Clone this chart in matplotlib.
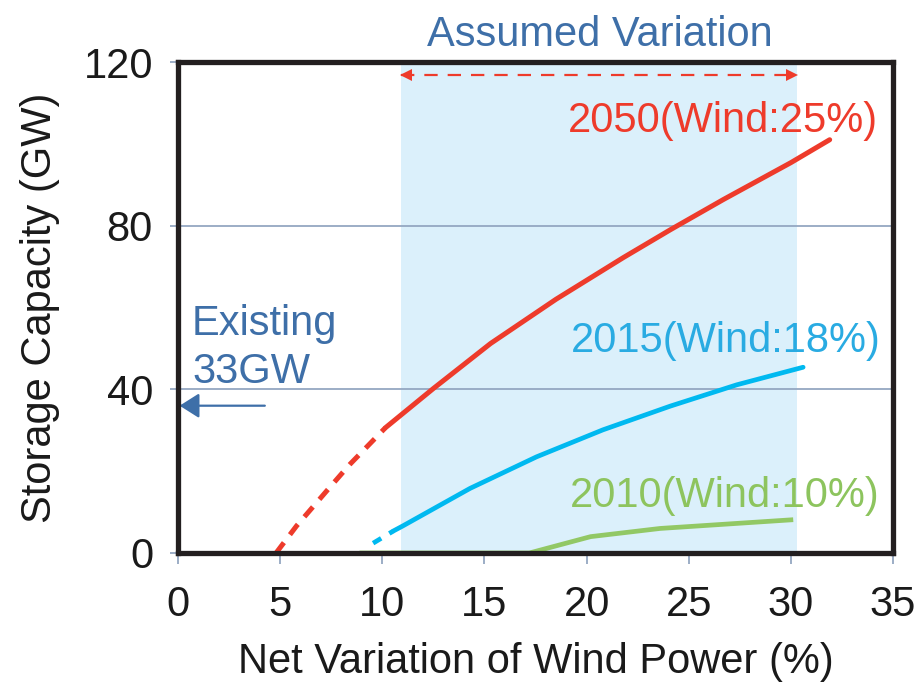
import matplotlib
matplotlib.use("Agg")
import matplotlib.pyplot as plt

plt.rcParams['font.family'] = ['Liberation Sans', 'DejaVu Sans']

# Data
red_dash_x = [4.8, 5.8, 7.3, 8.4, 10.15]
red_dash_y = [0, 6.6, 15.3, 21.6, 30.6]
red_x = [10.15, 12.5, 15.3, 18.5, 21.8, 24.1, 26.7, 30.0, 31.9]
red_y = [30.6, 40.2, 51.2, 62.0, 72.2, 79.0, 86.4, 95.4, 101.0]

cyan_dash_x = [9.55, 10.55]
cyan_dash_y = [2.4, 5.4]
cyan_x = [10.55, 11.0, 14.3, 17.55, 20.8, 24.1, 27.35, 30.6]
cyan_y = [5.4, 6.6, 15.8, 23.5, 30.1, 35.9, 41.1, 45.4]

green_x = [9.0, 17.2, 20.2, 23.6, 30.0]
green_y = [0, 0, 4.0, 6.0, 8.1]

xticks = [0, 5, 10, 15, 20, 25, 30, 35]
yticks = [0, 40, 80, 120]

shade_range = [10.9, 30.3]
existing_cap = 36.0

labels = ["2050(Wind:25%)", "2015(Wind:18%)", "2010(Wind:10%)"]

RED = '#EE3B2B'
CYAN = '#00B9F0'
GREEN = '#92C865'
BLUE = '#3E6FA8'
FS = 30

fig = plt.figure(figsize=(9.18, 6.86), dpi=100)
ax = fig.add_axes([178/918, 1-553/686, (893-178)/918, (553-62)/686])

ax.set_xlim(0, 35)
ax.set_ylim(0, 120)

ax.axvspan(shade_range[0], shade_range[1], color='#DBF0FB', zorder=0, lw=0)
for yv in [40, 80]:
    ax.axhline(yv, color='#94A7C2', lw=1.3, zorder=1)

ax.plot(red_dash_x, red_dash_y, color=RED, lw=3.6, dashes=(2.6, 2.0), zorder=3, solid_capstyle='butt')
ax.plot(red_x, red_y, color=RED, lw=3.6, zorder=3, solid_capstyle='round', solid_joinstyle='round')
ax.plot(cyan_dash_x, cyan_dash_y, color=CYAN, lw=3.4, dashes=(2.0, 2.0), zorder=3)
ax.plot(cyan_x, cyan_y, color=CYAN, lw=3.4, zorder=3, solid_capstyle='round', solid_joinstyle='round')
ax.plot(green_x, green_y, color=GREEN, lw=3.4, zorder=2, solid_joinstyle='round')

# Assumed variation arrow
ay = 116.8
ax.plot(shade_range, [ay, ay], color=RED, lw=1.6, dashes=(6, 4.5), zorder=4)
ax.plot([shade_range[0]+0.25], [ay], marker='<', color=RED, markersize=9, zorder=5, markeredgewidth=0)
ax.plot([shade_range[1]-0.25], [ay], marker='>', color=RED, markersize=9, zorder=5, markeredgewidth=0)

# Existing arrow
ax.annotate('', xy=(0.08, existing_cap), xytext=(4.25, existing_cap),
            arrowprops=dict(arrowstyle='-|>,head_length=0.6,head_width=0.38', color=BLUE, lw=1.6,
                            mutation_scale=20, shrinkA=0, shrinkB=0), zorder=5)
ax.text(0.69, 53.3, "Existing", color=BLUE, fontsize=FS, ha='left', va='baseline')
ax.text(0.69, 41.5, "33GW", color=BLUE, fontsize=FS, ha='left', va='baseline')

ax.text(20.65, 124.0, "Assumed Variation", color=BLUE, fontsize=FS, ha='center', va='baseline', clip_on=False)

ax.text(34.25, 103.0, labels[0], color=RED, fontsize=FS, ha='right', va='baseline')
ax.text(34.4, 49.1, labels[1], color='#29ABE2', fontsize=FS, ha='right', va='baseline')
ax.text(34.35, 11.2, labels[2], color='#8DC45E', fontsize=FS, ha='right', va='baseline')

for s in ax.spines.values():
    s.set_linewidth(3.8)
    s.set_color('#231F20')
    s.set_zorder(6)

ax.set_xticks(xticks)
ax.set_yticks(yticks)
ax.set_xticklabels([str(v) for v in xticks])
ax.set_yticklabels([str(v) for v in yticks])
ax.tick_params(axis='x', direction='out', length=8, width=1.3, color='#94A7C2', pad=15,
               labelsize=FS, labelcolor='#1A1A1A')
ax.tick_params(axis='y', direction='out', length=6, width=1.3, color='#94A7C2', pad=12,
               labelsize=FS, labelcolor='#1A1A1A')

ax.set_xlabel("Net Variation of Wind Power (%)", fontsize=FS, color='#1A1A1A', labelpad=12)
ax.set_ylabel("Storage Capacity (GW)", fontsize=FS, color='#1A1A1A', labelpad=17)

fig.savefig("out.png", dpi=100)
